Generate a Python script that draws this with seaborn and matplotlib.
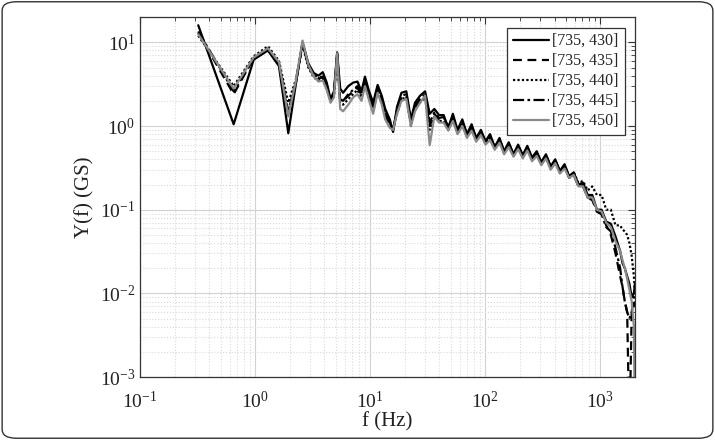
import matplotlib
matplotlib.use("Agg")
import matplotlib.pyplot as plt
import seaborn as sns
from matplotlib.patches import FancyBboxPatch
from matplotlib.ticker import LogLocator, NullFormatter

# frequency axis (Hz) and spectra
freq = [0.32, 0.65, 0.97, 1.29, 1.61, 1.94, 2.26, 2.58, 2.90, 3.23,
        3.55, 3.87, 4.19, 4.52, 4.84, 5.16, 5.48, 5.81, 6.45, 7.10,
        7.74, 8.40, 9.00, 9.70, 10.6, 11.6, 12.6, 13.5, 14.8, 15.8,
        17.1, 18.7, 20.6, 22.6, 24.5, 27.1, 30.0, 32.9, 36.1, 39.7,
        43.5, 47.7, 52.3, 57.4, 63.2, 69.3, 76.1, 83.5, 91.6, 100.6,
        110, 121, 133, 146, 160, 176, 193, 212, 232, 255,
        280, 307, 337, 370, 406, 445, 489, 536, 588, 645,
        708, 777, 852, 935, 1026, 1126, 1235, 1356, 1488, 1560,
        1633, 1712, 1792, 1875, 1960, 2000]

y_430 = [16.0, 1.05, 6.2, 8.0, 5.2, 0.82, 3.2, 10.0, 5.6, 4.3,
         4.0, 4.4, 3.3, 2.1, 2.6, 7.6, 2.8, 2.5, 3.0, 3.3,
         3.4, 2.6, 3.9, 2.7, 1.9, 3.1, 2.3, 1.6, 1.2, 0.85,
         1.7, 2.5, 2.6, 1.2, 1.9, 2.3, 2.6, 1.4, 1.6, 1.35,
         1.35, 0.95, 1.4, 0.9, 1.2, 0.8, 1.05, 0.72, 0.9, 0.66,
         0.8, 0.56, 0.72, 0.5, 0.64, 0.46, 0.6, 0.45, 0.58, 0.42,
         0.5, 0.37, 0.46, 0.33, 0.4, 0.29, 0.35, 0.25, 0.28, 0.2,
         0.21, 0.15, 0.15, 0.1, 0.1, 0.072, 0.068, 0.048, 0.032, 0.023,
         0.02, 0.016, 0.013, 0.009, 0.01, 0.013]

y_435 = [13.0, 2.4, 6.5, 8.3, 5.6, 1.5, 3.4, 9.6, 5.2, 4.0,
         3.7, 3.8, 2.9, 2.0, 2.4, 7.2, 2.0, 2.0, 2.3, 2.6,
         2.9, 2.3, 3.4, 2.4, 1.6, 2.8, 2.0, 1.4, 1.0, 0.9,
         1.5, 2.2, 2.3, 1.1, 1.7, 2.0, 2.3, 1.0, 1.4, 1.2,
         1.2, 1.0, 1.25, 0.85, 1.1, 0.78, 0.95, 0.7, 0.85, 0.62,
         0.74, 0.55, 0.68, 0.48, 0.6, 0.45, 0.57, 0.43, 0.55, 0.4,
         0.47, 0.36, 0.44, 0.32, 0.38, 0.28, 0.33, 0.24, 0.26, 0.19,
         0.19, 0.14, 0.13, 0.095, 0.09, 0.065, 0.05, 0.03, 0.016, 0.012,
         0.008, 0.006, 0.0002, 0.006, 0.007, 0.008]

y_440 = [12.0, 3.0, 6.8, 9.0, 6.0, 1.9, 3.6, 9.3, 5.0, 3.8,
         3.5, 3.6, 2.8, 2.0, 2.3, 7.0, 1.9, 1.8, 2.1, 2.4,
         2.7, 2.2, 3.2, 2.3, 1.5, 2.6, 1.9, 1.3, 1.05, 0.95,
         1.4, 2.1, 2.2, 1.0, 1.6, 1.9, 2.2, 0.9, 1.3, 1.15,
         1.15, 0.9, 1.2, 0.82, 1.05, 0.75, 0.9, 0.68, 0.8, 0.62,
         0.7, 0.53, 0.65, 0.47, 0.58, 0.44, 0.55, 0.42, 0.53, 0.4,
         0.46, 0.35, 0.43, 0.31, 0.37, 0.28, 0.33, 0.25, 0.28, 0.21,
         0.22, 0.17, 0.19, 0.15, 0.15, 0.1, 0.1, 0.065, 0.065, 0.058,
         0.055, 0.05, 0.04, 0.028, 0.016, 0.01]

y_445 = [13.5, 2.6, 6.4, 8.2, 5.5, 1.4, 3.3, 9.8, 5.3, 4.1,
         3.8, 3.9, 3.0, 2.0, 2.4, 7.3, 2.1, 2.0, 2.4, 2.7,
         3.0, 2.4, 3.5, 2.5, 1.7, 2.9, 2.1, 1.4, 1.1, 0.88,
         1.55, 2.3, 2.4, 1.1, 1.75, 2.1, 2.4, 1.1, 1.45, 1.25,
         1.28, 0.96, 1.3, 0.88, 1.12, 0.8, 0.98, 0.72, 0.86, 0.64,
         0.76, 0.56, 0.7, 0.49, 0.62, 0.46, 0.58, 0.44, 0.56, 0.41,
         0.48, 0.37, 0.45, 0.33, 0.39, 0.29, 0.34, 0.25, 0.27, 0.2,
         0.2, 0.14, 0.14, 0.095, 0.088, 0.062, 0.055, 0.035, 0.02, 0.012,
         0.008, 0.006, 0.005, 0.006, 0.009, 0.01]

y_450 = [12.5, 2.8, 6.6, 8.5, 5.8, 1.3, 3.5, 10.5, 5.4, 3.9,
         3.4, 3.5, 2.7, 1.9, 2.2, 7.4, 1.6, 1.5, 1.8, 2.2,
         2.4, 2.0, 3.0, 2.1, 1.4, 2.5, 1.8, 1.2, 0.95, 0.9,
         1.4, 2.0, 2.1, 1.0, 1.5, 1.9, 2.3, 0.59, 1.3, 1.1,
         1.1, 0.88, 1.15, 0.8, 1.0, 0.72, 0.88, 0.65, 0.78, 0.6,
         0.68, 0.52, 0.63, 0.46, 0.56, 0.43, 0.53, 0.41, 0.51, 0.38,
         0.44, 0.34, 0.41, 0.3, 0.36, 0.27, 0.31, 0.24, 0.26, 0.19,
         0.19, 0.14, 0.14, 0.1, 0.095, 0.07, 0.062, 0.042, 0.032, 0.025,
         0.02, 0.015, 0.011, 0.008, 0.004, 0.0002]

labels = ["[735, 430]", "[735, 435]", "[735, 440]", "[735, 445]", "[735, 450]"]
series = [y_430, y_435, y_440, y_445, y_450]
colors = ["black", "black", "black", "black", "#8a8a8a"]
styles = ["-", (0, (4, 2.5)), (0, (1, 1)), (0, (5, 1.5, 1.2, 1.5)), "-"]

sns.set_theme(style="white")
plt.rcParams['font.family'] = ['Liberation Serif', 'DejaVu Serif']
plt.rcParams['mathtext.fontset'] = 'stix'

fig, ax = plt.subplots(figsize=(7.15, 4.4), dpi=100)
fig.subplots_adjust(left=0.196, right=0.888, bottom=0.143, top=0.961)

for vals, lab, c, ls in zip(series, labels, colors, styles):
    sns.lineplot(x=freq, y=vals, ax=ax, color=c, linestyle=ls, linewidth=1.6,
                 label=lab, estimator=None, sort=False)

ax.set_xscale('log')
ax.set_yscale('log')
ax.set_xlim(0.1, 2000)
ax.set_ylim(1e-3, 20)

ax.xaxis.set_major_locator(LogLocator(base=10, numticks=10))
ax.yaxis.set_major_locator(LogLocator(base=10, numticks=10))
ax.xaxis.set_minor_locator(LogLocator(base=10, subs=range(2, 10), numticks=50))
ax.yaxis.set_minor_locator(LogLocator(base=10, subs=range(2, 10), numticks=50))
ax.xaxis.set_minor_formatter(NullFormatter())
ax.yaxis.set_minor_formatter(NullFormatter())

ax.grid(which='major', color='#d2d2d2', linewidth=0.8)
ax.grid(which='minor', color='#dadada', linestyle=':', linewidth=0.8)
ax.set_axisbelow(True)

ax.tick_params(which='both', direction='in', top=True, right=True, colors='#333333',
               labelcolor='#222222', labelsize=14)
ax.tick_params(which='major', length=5, width=0.8)
ax.tick_params(which='minor', length=3, width=0.6)
ax.tick_params(axis='x', which='major', pad=10)
for sp in ax.spines.values():
    sp.set_color('#333333')
    sp.set_linewidth(0.9)

ax.set_xlabel('f (Hz)', fontsize=15, color='#222222', labelpad=0)
ax.set_ylabel('Y(f) (GS)', fontsize=15, color='#222222', labelpad=4)

leg = ax.legend(loc='upper right', fontsize=11.5, frameon=True, fancybox=False,
                edgecolor='#333333', framealpha=1, handlelength=2.3,
                handletextpad=0.2, labelspacing=0.25, borderpad=0.35,
                borderaxespad=0.65)
leg.get_frame().set_linewidth(0.9)

fig.patches.append(FancyBboxPatch((0.003, 0.004), 0.994, 0.992,
                                  boxstyle="round,pad=0,rounding_size=0.02",
                                  transform=fig.transFigure, fill=False,
                                  edgecolor='#333333', linewidth=1.0))

fig.savefig('out.png', dpi=100)
